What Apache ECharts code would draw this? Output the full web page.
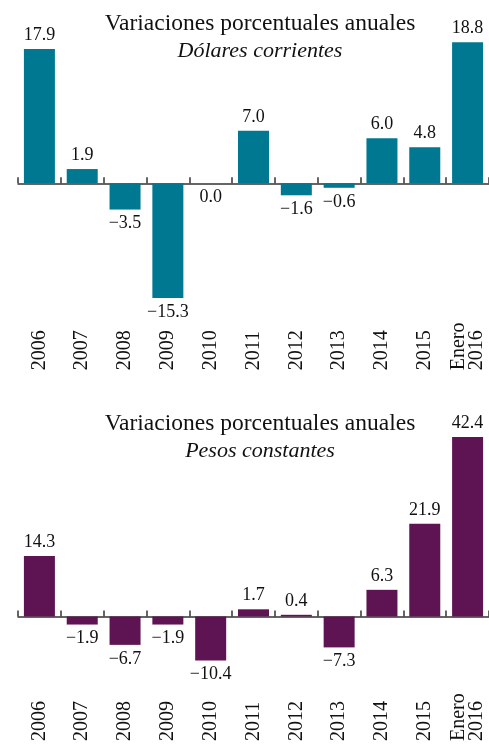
<!DOCTYPE html>
<html lang="es">
<head>
    <meta charset="UTF-8">
    <title>Variaciones porcentuales anuales</title>
    <style>
        html, body { margin: 0; padding: 0; background: #fff; }
        #chart-container { width: 489px; height: 744px; }
    </style>
</head>
<body>
    <div id="chart-container"></div>
    <script src="https://cdn.jsdelivr.net/npm/echarts@6/dist/echarts.min.js"></script>
    <script>
        // categorias y valores
        const years = ['2006', '2007', '2008', '2009', '2010', '2011', '2012', '2013', '2014', '2015', 'Enero\n2016'];
        const dolaresCorrientes = [17.9, 1.9, -3.5, -15.3, 0.0, 7.0, -1.6, -0.6, 6.0, 4.8, 18.8];
        const pesosConstantes = [14.3, -1.9, -6.7, -1.9, -10.4, 1.7, 0.4, -7.3, 6.3, 21.9, 42.4];

        const font = 'Liberation Serif';
        const teal = '#007891';
        const purple = '#5e1452';

        var dom = document.getElementById('chart-container');
        var myChart = echarts.init(dom, null, { renderer: 'canvas' });

        function fmt(v) {
            return (v < 0 ? '\u2212' : '') + Math.abs(v).toFixed(1);
        }

        // positivos arriba, negativos y cero abajo
        function barData(values) {
            return values.map(function (v) {
                return {
                    value: v,
                    label: { position: v > 0 ? 'top' : 'bottom' }
                };
            });
        }

        function labelAxis(gridIndex, margin) {
            return {
                type: 'category',
                gridIndex: gridIndex,
                data: years,
                position: 'bottom',
                axisLine: { show: false, onZero: false },
                axisTick: { show: false },
                axisLabel: {
                    rotate: 90,
                    align: 'left',
                    margin: margin,
                    interval: 0,
                    fontFamily: font,
                    fontSize: 20,
                    lineHeight: 18,
                    color: '#111'
                }
            };
        }

        function zeroAxis(gridIndex) {
            return {
                type: 'category',
                gridIndex: gridIndex,
                data: years,
                position: 'top',
                axisLine: { show: true, onZero: true, lineStyle: { color: '#333', width: 1.5 } },
                axisTick: { show: true, length: 6, lineStyle: { color: '#333', width: 1.5 } },
                axisLabel: { show: false }
            };
        }

        function barSeries(axisIndex, values, color) {
            return {
                type: 'bar',
                xAxisIndex: axisIndex,
                yAxisIndex: axisIndex / 2,
                data: barData(values),
                barWidth: 31,
                itemStyle: { color: color },
                label: {
                    show: true,
                    distance: 5,
                    fontFamily: font,
                    fontSize: 18,
                    color: '#111',
                    formatter: function (p) { return fmt(p.value); }
                }
            };
        }

        function titleText(text, y, italic, size) {
            return {
                text: text, left: 255, top: y, textAlign: 'center',
                textStyle: {
                    fontFamily: font, fontSize: size, fontWeight: 'normal',
                    fontStyle: italic ? 'italic' : 'normal', color: '#111'
                }
            };
        }

        var option = {
            animation: false,
            title: [
                titleText('Variaciones porcentuales anuales', 7, false, 23.5),
                titleText('Dólares corrientes', 35, true, 22),
                titleText('Variaciones porcentuales anuales', 407, false, 23.5),
                titleText('Pesos constantes', 435, true, 22)
            ],
            grid: [
                { left: 18, width: 473, top: 33.3, height: 300 },
                { left: 18, width: 473, top: 426, height: 255 }
            ],
            xAxis: [
                labelAxis(0, 37),
                zeroAxis(0),
                labelAxis(1, 61),
                zeroAxis(1)
            ],
            yAxis: [
                { type: 'value', gridIndex: 0, min: -20, max: 20, show: false },
                { type: 'value', gridIndex: 1, min: -15, max: 45, show: false }
            ],
            series: [
                barSeries(0, dolaresCorrientes, teal),
                barSeries(2, pesosConstantes, purple)
            ]
        };

        myChart.setOption(option);
        window.addEventListener('resize', myChart.resize);
    </script>
</body>
</html>
